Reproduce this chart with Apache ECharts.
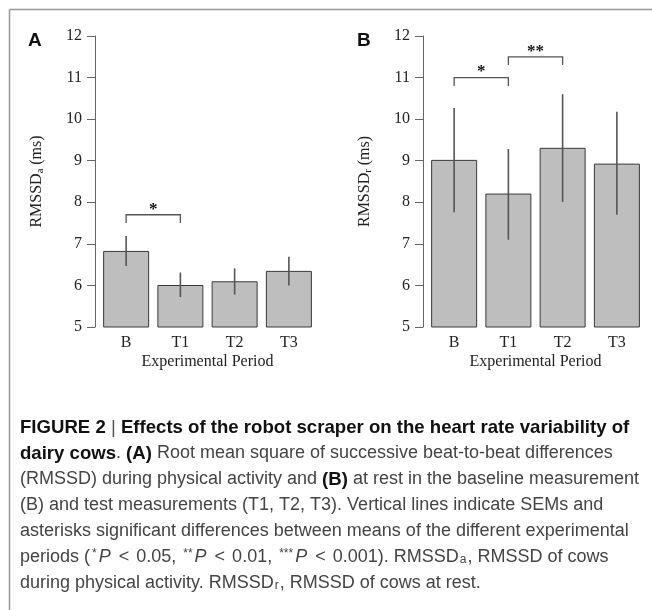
<!DOCTYPE html>
<html><head><meta charset="utf-8">
<script src="https://cdn.jsdelivr.net/npm/echarts@6/dist/echarts.min.js"></script>
<style>html,body{margin:0;padding:0;background:#fff}#c{width:652px;height:610px}</style>
</head><body><div id="c"></div>
<script>
// ---- data ----
const categories = ['B', 'T1', 'T2', 'T3'];
const yTicks = [5, 6, 7, 8, 9, 10, 11, 12];
// Panel A: RMSSD during physical activity
const meanA = [6.83, 6.01, 6.10, 6.35];
const semLowA = [6.47, 5.72, 5.78, 6.00];
const semHighA = [7.19, 6.31, 6.41, 6.69];
// Panel B: RMSSD at rest
const meanB = [9.02, 8.21, 9.31, 8.93];
const semLowB = [7.76, 7.10, 8.01, 7.70];
const semHighB = [10.27, 9.28, 10.60, 10.18];
// significance brackets: [from index, to index, level, label]
const bracketsA = [[0, 1, 7.70, '*']];
const bracketsB = [[0, 1, 11.0, '*'], [1, 2, 11.5, '**']];
const bracketLeg = 0.2;

const serif = '"Liberation Serif", "DejaVu Serif", serif';
const sans = '"Liberation Sans", Arial, sans-serif';
const chart = echarts.init(document.getElementById('c'), null, {renderer: 'canvas'});

function yAxisDef(gi, sub) {
  return {
    type: 'value', gridIndex: gi, min: yTicks[0], max: yTicks[yTicks.length - 1], interval: 1,
    offset: 4,
    axisLine: {show: true, lineStyle: {color: '#666', width: 1}},
    axisTick: {show: true, inside: false, length: 8, lineStyle: {color: '#666'}},
    axisLabel: {margin: 13, fontFamily: serif, fontSize: 16, color: '#222'},
    splitLine: {show: false},
    name: '{n|RMSSD}{s|' + sub + '}{n| (ms)}',
    nameLocation: 'middle', nameRotate: 90, nameGap: 49,
    nameTextStyle: {
      rich: {
        n: {fontFamily: serif, fontSize: 16, color: '#222', lineHeight: 19},
        s: {fontFamily: serif, fontSize: 10.5, color: '#222', lineHeight: 19, verticalAlign: 'bottom', padding: [7, 0, 0, 0]}
      }
    }
  };
}
function xAxisDef(gi) {
  return {
    type: 'category', gridIndex: gi, data: categories,
    axisLine: {show: false}, axisTick: {show: false},
    axisLabel: {margin: 8, fontFamily: serif, fontSize: 16, color: '#222'},
    name: 'Experimental Period', nameLocation: 'middle', nameGap: 27,
    nameTextStyle: {fontFamily: serif, fontSize: 16, color: '#222'}
  };
}
function errData(lo, hi) { return lo.map((v, i) => [i, v, hi[i]]); }
function errRender(params, api) {
  const p1 = api.coord([api.value(0), api.value(1)]);
  const p2 = api.coord([api.value(0), api.value(2)]);
  return {type: 'line', shape: {x1: p1[0], y1: p1[1], x2: p2[0], y2: p2[1]},
    style: {stroke: '#555', lineWidth: 1.6}};
}
function brData(br) { return br.map(b => [b[0], b[1], b[2], b[2] - bracketLeg, b[3]]); }
function brRender(params, api) {
  const i = api.value(0), j = api.value(1), y = api.value(2), yl = api.value(3);
  const a = api.coord([i, y]), b = api.coord([j, y]);
  const al = api.coord([i, yl]), bl = api.coord([j, yl]);
  const label = brackets[params.seriesName][params.dataIndex][3];
  return {type: 'group', children: [
    {type: 'polyline', shape: {points: [al, a, b, bl]}, style: {stroke: '#555', lineWidth: 1.3, fill: null}},
    {type: 'text', x: (a[0] + b[0]) / 2, y: a[1] + 3,
      style: {text: label, fontFamily: serif, fontSize: 17, fontWeight: 'bold', fill: '#111', align: 'center', verticalAlign: 'bottom'}}
  ]};
}
const brackets = {brA: bracketsA, brB: bracketsB};
const barStyle = {color: '#bebebe', borderColor: '#3a3a3a', borderWidth: 1};

const capSize = 18;
const capBold = 18.6;
function captionLine(y, text) {
  return {type: 'text', left: 20, top: y, style: {
    text: text, fill: '#444',
    font: capSize + 'px ' + sans,
    rich: {
      b: {fontFamily: sans, fontSize: capBold, fontWeight: 'bold', fill: '#111'},
      bar: {fontFamily: sans, fontSize: capBold, fill: '#555'},
      r: {fontFamily: sans, fontSize: capSize, fill: '#444'},
      lt: {fontFamily: sans, fontSize: capSize, fill: '#444', padding: [0, 2, 0, 2]},
      i: {fontFamily: sans, fontSize: capSize, fontStyle: 'italic', fill: '#444', padding: [0, 1, 0, 0]},
      sup: {fontFamily: sans, fontSize: 12, fill: '#444', verticalAlign: 'top', padding: [0, 2, 0, 2]},
      sub: {fontFamily: sans, fontSize: 12, fill: '#444', verticalAlign: 'bottom', padding: [0, 1, 0, 1]}
    }
  }};
}

chart.setOption({
  animation: false,
  backgroundColor: '#fff',
  grid: [
    {left: 99, top: 36, width: 217, height: 291},
    {left: 427, top: 36, width: 217, height: 291}
  ],
  xAxis: [xAxisDef(0), xAxisDef(1)],
  yAxis: [yAxisDef(0, 'a'), yAxisDef(1, 'r')],
  series: [
    {type: 'bar', xAxisIndex: 0, yAxisIndex: 0, data: meanA, barWidth: 46, itemStyle: barStyle},
    {type: 'bar', xAxisIndex: 1, yAxisIndex: 1, data: meanB, barWidth: 46, itemStyle: barStyle},
    {type: 'custom', xAxisIndex: 0, yAxisIndex: 0, data: errData(semLowA, semHighA), renderItem: errRender, z: 5},
    {type: 'custom', xAxisIndex: 1, yAxisIndex: 1, data: errData(semLowB, semHighB), renderItem: errRender, z: 5},
    {type: 'custom', name: 'brA', xAxisIndex: 0, yAxisIndex: 0, data: brData(bracketsA), renderItem: brRender, clip: false, z: 5},
    {type: 'custom', name: 'brB', xAxisIndex: 1, yAxisIndex: 1, data: brData(bracketsB), renderItem: brRender, clip: false, z: 5}
  ],
  graphic: [
    {type: 'line', shape: {x1: 9.5, y1: 9.5, x2: 652, y2: 9.5}, style: {stroke: '#999', lineWidth: 1.5}},
    {type: 'line', shape: {x1: 9.5, y1: 9.5, x2: 9.5, y2: 610}, style: {stroke: '#999', lineWidth: 1.5}},
    {type: 'text', left: 28, top: 31, style: {text: 'A', font: 'bold 19px ' + sans, fill: '#111'}},
    {type: 'text', left: 357, top: 31, style: {text: 'B', font: 'bold 19px ' + sans, fill: '#111'}},
    captionLine(418, '{b|FIGURE 2 }{bar||}{b| Effects of the robot scraper on the heart rate variability of}'),
    captionLine(444, '{b|dairy cows}{r|. }{b|(A)}{r| Root mean square of successive beat-to-beat differences}'),
    captionLine(470, '{r|(RMSSD) during physical activity and }{b|(B)}{r| at rest in the baseline measurement}'),
    captionLine(496, '{r|(B) and test measurements (T1, T2, T3). Vertical lines indicate SEMs and}'),
    captionLine(522, '{r|asterisks significant differences between means of the different experimental}'),
    captionLine(548, '{r|periods (}{sup|*}{i|P}{lt| < }{r|0.05, }{sup|**}{i|P}{lt| < }{r|0.01, }{sup|***}{i|P}{lt| < }{r|0.001). RMSSD}{sub|a}{r|, RMSSD of cows}'),
    captionLine(574, '{r|during physical activity. RMSSD}{sub|r}{r|, RMSSD of cows at rest.}')
  ]
});
</script>
</body></html>
